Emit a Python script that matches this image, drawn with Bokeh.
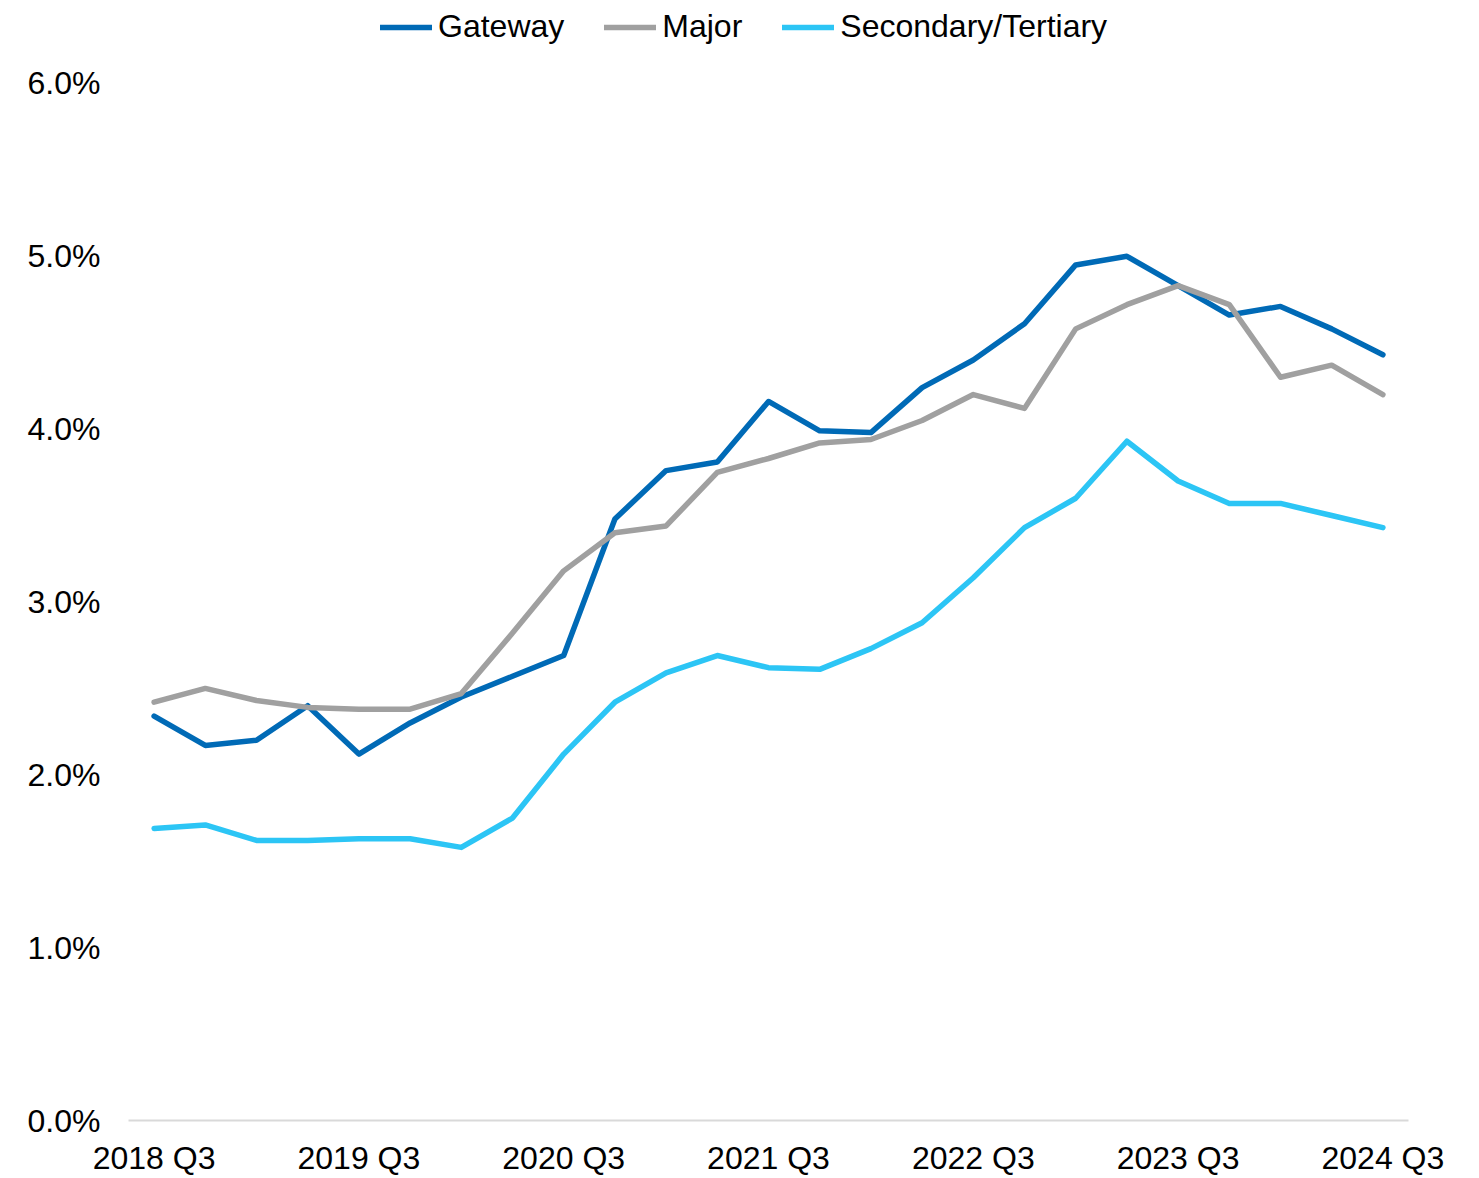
from bokeh.plotting import figure
from bokeh.models import (ColumnDataSource, Legend, LegendItem, FixedTicker,
                          PrintfTickFormatter, Range1d)
from bokeh.embed import file_html
from bokeh.resources import INLINE

quarters = ["2018 Q3", "2018 Q4", "2019 Q1", "2019 Q2", "2019 Q3", "2019 Q4",
            "2020 Q1", "2020 Q2", "2020 Q3", "2020 Q4", "2021 Q1", "2021 Q2",
            "2021 Q3", "2021 Q4", "2022 Q1", "2022 Q2", "2022 Q3", "2022 Q4",
            "2023 Q1", "2023 Q2", "2023 Q3", "2023 Q4", "2024 Q1", "2024 Q2",
            "2024 Q3"]
gateway = [2.34, 2.17, 2.20, 2.40, 2.12, 2.30, 2.45, 2.57, 2.69, 3.48, 3.76, 3.81,
           4.16, 3.99, 3.98, 4.24, 4.40, 4.61, 4.95, 5.00, 4.83, 4.66, 4.71, 4.58,
           4.43]
major = [2.42, 2.50, 2.43, 2.39, 2.38, 2.38, 2.47, 2.82, 3.18, 3.40, 3.44, 3.75,
         3.83, 3.92, 3.94, 4.05, 4.20, 4.12, 4.58, 4.72, 4.83, 4.72, 4.30, 4.37,
         4.20]
secondary = [1.69, 1.71, 1.62, 1.62, 1.63, 1.63, 1.58, 1.75, 2.12, 2.42, 2.59, 2.69,
             2.62, 2.61, 2.73, 2.88, 3.14, 3.43, 3.60, 3.93, 3.70, 3.57, 3.57, 3.50,
             3.43]
y_ticks = [0, 1, 2, 3, 4, 5, 6]

idx = list(range(len(quarters)))
src = ColumnDataSource(dict(x=idx, gateway=gateway, major=major, secondary=secondary))

FONT = "Liberation Sans"
FS = "32px"
W, H = 1479, 1178
left, right, bottom = 128, 71, 57
frame_h = H - bottom            # frame reaches the top edge so the legend fits inside
top_of_axis_px = 83             # pixel row of the 6.0% gridline
y_max = 6 * frame_h / (frame_h - top_of_axis_px)

p = figure(width=W, height=H, output_backend="svg", toolbar_location=None,
           x_range=Range1d(-0.5, len(quarters) - 0.5), y_range=Range1d(0, y_max))
p.min_border_left = left
p.min_border_right = right
p.min_border_top = 0
p.min_border_bottom = bottom
p.outline_line_color = None
p.grid.visible = False
p.background_fill_color = "white"
p.border_fill_color = "white"

LW = 5.5
r1 = p.line("x", "gateway", source=src, line_color="#006AB6", line_width=LW, line_join="round", line_cap="round")
r2 = p.line("x", "major", source=src, line_color="#A0A0A0", line_width=LW, line_join="round", line_cap="round")
r3 = p.line("x", "secondary", source=src, line_color="#2CC5F5", line_width=LW, line_join="round", line_cap="round")

xa = p.xaxis[0]
xa.ticker = FixedTicker(ticks=idx[::4])
xa.major_label_overrides = {i: quarters[i] for i in idx[::4]}
xa.major_tick_line_color = None
xa.minor_tick_line_color = None
xa.axis_line_color = "#D9D9D9"
xa.axis_line_width = 2
xa.major_label_text_font = FONT
xa.major_label_text_font_size = FS
xa.major_label_text_color = "black"
xa.major_label_standoff = 13

ya = p.yaxis[0]
ya.ticker = FixedTicker(ticks=y_ticks)
ya.formatter = PrintfTickFormatter(format="%.1f%%")
ya.major_tick_line_color = None
ya.minor_tick_line_color = None
ya.axis_line_color = None
ya.major_label_text_font = FONT
ya.major_label_text_font_size = FS
ya.major_label_text_color = "black"
ya.major_label_standoff = 22

legend = Legend(items=[LegendItem(label="Gateway", renderers=[r1]),
                       LegendItem(label="Major", renderers=[r2]),
                       LegendItem(label="Secondary/Tertiary", renderers=[r3])],
                orientation="horizontal", location=(252, frame_h - 46),
                glyph_width=52, glyph_height=32, label_standoff=6, spacing=40,
                padding=0, margin=0, border_line_color=None,
                background_fill_alpha=0,
                label_text_font=FONT, label_text_font_size=FS,
                label_text_color="black")
p.add_layout(legend, "center")

open("out.html", "w").write(file_html(p, INLINE))
